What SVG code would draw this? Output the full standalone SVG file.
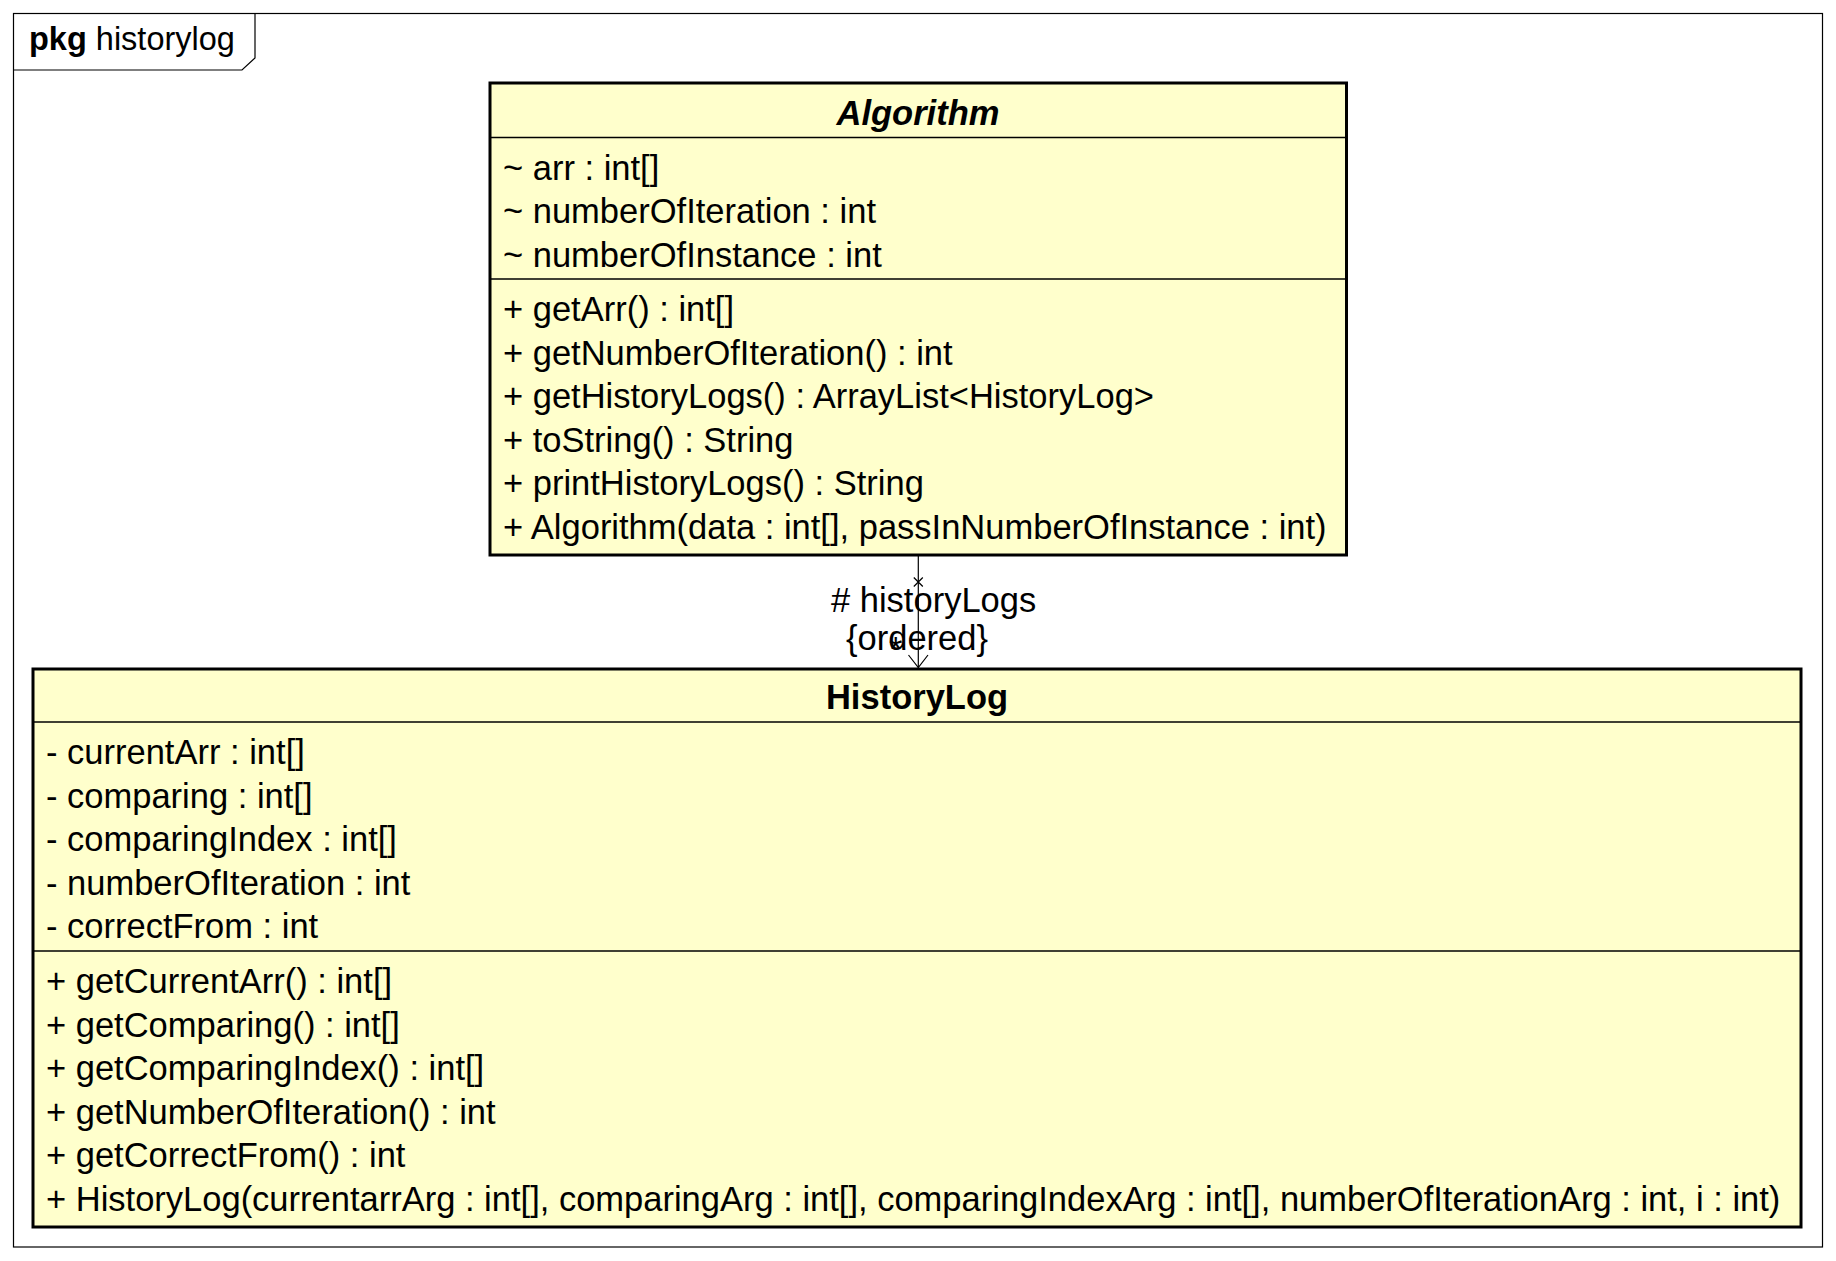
<svg xmlns="http://www.w3.org/2000/svg" width="1836" height="1261" viewBox="0 0 1836 1261">
  <style>
    text { font-family: "Liberation Sans", Arial, sans-serif; font-size: 34.5px; fill: #000; }
    .title { font-weight: bold; text-anchor: middle; }
    .abstract { font-style: italic; }
    .pkg-label { font-size: 32.5px; }
    .box { fill: #FFFFCC; stroke: #000; stroke-width: 3; }
    .sep { stroke: #000; stroke-width: 1.3; }
    .frame { fill: none; stroke: #000; stroke-width: 1.2; }
    .edge { fill: none; stroke: #000; stroke-width: 1.2; }
  </style>

  <rect width="1836" height="1261" fill="#fff"/>

  <!-- package frame -->
  <g id="pkg-historylog">
    <rect class="frame" x="13.5" y="13.5" width="1809" height="1233.5"/>
    <polyline class="frame" points="13.5,70 242,70 255,58 255,13.5"/>
    <text class="pkg-label" x="29" y="50"><tspan font-weight="bold">pkg</tspan> historylog</text>
  </g>

  <!-- class Algorithm -->
  <g id="Algorithm">
    <rect class="box" x="490" y="83" width="856.5" height="472"/>
    <line class="sep" x1="490" y1="137.5" x2="1346.5" y2="137.5"/>
    <line class="sep" x1="490" y1="279" x2="1346.5" y2="279"/>
    <text class="title abstract" x="918" y="125">Algorithm</text>
    <text x="503" y="179.5">~ arr : int[]</text>
    <text x="503" y="223.1">~ numberOfIteration : int</text>
    <text x="503" y="266.7">~ numberOfInstance : int</text>
    <text x="503" y="321">+ getArr() : int[]</text>
    <text x="503" y="364.6">+ getNumberOfIteration() : int</text>
    <text x="503" y="408.2">+ getHistoryLogs() : ArrayList&lt;HistoryLog&gt;</text>
    <text x="503" y="451.8">+ toString() : String</text>
    <text x="503" y="495.4">+ printHistoryLogs() : String</text>
    <text x="503" y="539">+ Algorithm(data : int[], passInNumberOfInstance : int)</text>
  </g>

  <!-- class HistoryLog -->
  <g id="HistoryLog">
    <rect class="box" x="33" y="669" width="1768" height="558"/>
    <line class="sep" x1="33" y1="722" x2="1801" y2="722"/>
    <line class="sep" x1="33" y1="951" x2="1801" y2="951"/>
    <text class="title" x="917" y="709">HistoryLog</text>
    <text x="46" y="764">- currentArr : int[]</text>
    <text x="46" y="807.6">- comparing : int[]</text>
    <text x="46" y="851.2">- comparingIndex : int[]</text>
    <text x="46" y="894.8">- numberOfIteration : int</text>
    <text x="46" y="938.4">- correctFrom : int</text>
    <text x="46" y="993">+ getCurrentArr() : int[]</text>
    <text x="46" y="1036.6">+ getComparing() : int[]</text>
    <text x="46" y="1080.2">+ getComparingIndex() : int[]</text>
    <text x="46" y="1123.8">+ getNumberOfIteration() : int</text>
    <text x="46" y="1167.4">+ getCorrectFrom() : int</text>
    <text x="46" y="1211">+ HistoryLog(currentarrArg : int[], comparingArg : int[], comparingIndexArg : int[], numberOfIterationArg : int, i : int)</text>
  </g>

  <!-- association Algorithm -> HistoryLog -->
  <g id="connectors">
    <line class="edge" x1="918.3" y1="555" x2="918.3" y2="667.5"/>
    <path class="edge" d="M913.8,577.5 L922.8,586.5 M922.8,577.5 L913.8,586.5"/>
    <polyline class="edge" points="908.5,655 918.3,667.5 928,655"/>
    <text x="831" y="612"># historyLogs</text>
    <text x="846" y="650">{ordered}</text>
    <text x="889" y="661">*</text>
  </g>
</svg>
